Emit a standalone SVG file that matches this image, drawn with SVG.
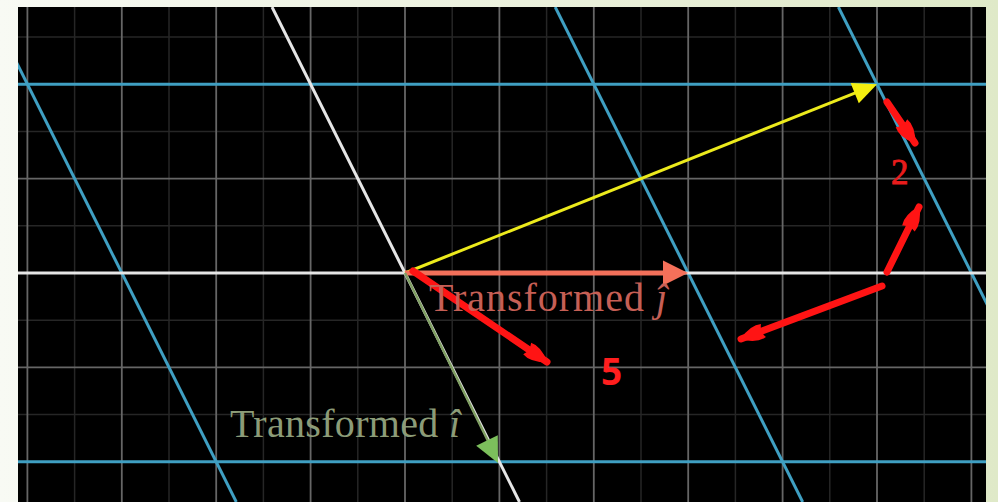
<svg xmlns="http://www.w3.org/2000/svg" width="998" height="502" viewBox="0 0 998 502">
  <defs>
    <linearGradient id="bg" x1="0" y1="0" x2="1" y2="0">
      <stop offset="0" stop-color="#f8faf4"/>
      <stop offset="1" stop-color="#dfe9c8"/>
    </linearGradient>
    <clipPath id="plane">
      <rect x="18" y="7" width="968" height="495"/>
    </clipPath>
    <marker id="redhead" viewBox="0 0 26 20" refX="24" refY="10" markerWidth="26" markerHeight="20" markerUnits="userSpaceOnUse" orient="auto">
      <path d="M0,3 Q10,0 25,10 Q10,20 0,17 Q4,10 0,3 Z" fill="#ff1414"/>
    </marker>
    <style>
      .major { stroke: #666; stroke-width: 1.8; }
      .minor { stroke: #262626; stroke-width: 1.5; }
      .tgrid { stroke: #3f9fc2; stroke-width: 3; fill: none; }
      .axis { stroke: #e6e6e6; stroke-width: 3; fill: none; }
      .red { stroke: #ff1414; stroke-width: 7; stroke-linecap: round; fill: none; marker-end: url(#redhead); }
      .lbl { font-family: "Liberation Serif", "DejaVu Serif", serif; font-size: 40px; }
    </style>
  </defs>

  <rect x="0" y="0" width="998" height="502" fill="url(#bg)"/>
  <rect x="18" y="7" width="968" height="495" fill="#000"/>

  <g id="grid" clip-path="url(#plane)">
    <g id="minor-lines">
      <line class="minor" x1="74.6" y1="7" x2="74.6" y2="502"/>
      <line class="minor" x1="169" y1="7" x2="169" y2="502"/>
      <line class="minor" x1="263.4" y1="7" x2="263.4" y2="502"/>
      <line class="minor" x1="357.8" y1="7" x2="357.8" y2="502"/>
      <line class="minor" x1="452.2" y1="7" x2="452.2" y2="502"/>
      <line class="minor" x1="546.6" y1="7" x2="546.6" y2="502"/>
      <line class="minor" x1="641" y1="7" x2="641" y2="502"/>
      <line class="minor" x1="735.4" y1="7" x2="735.4" y2="502"/>
      <line class="minor" x1="829.8" y1="7" x2="829.8" y2="502"/>
      <line class="minor" x1="924.2" y1="7" x2="924.2" y2="502"/>
      <line class="minor" x1="18" y1="37" x2="986" y2="37"/>
      <line class="minor" x1="18" y1="131.4" x2="986" y2="131.4"/>
      <line class="minor" x1="18" y1="225.8" x2="986" y2="225.8"/>
      <line class="minor" x1="18" y1="320.2" x2="986" y2="320.2"/>
      <line class="minor" x1="18" y1="414.6" x2="986" y2="414.6"/>
    </g>
    <g id="major-lines">
      <line class="major" x1="27.4" y1="7" x2="27.4" y2="502"/>
      <line class="major" x1="121.8" y1="7" x2="121.8" y2="502"/>
      <line class="major" x1="216.2" y1="7" x2="216.2" y2="502"/>
      <line class="major" x1="310.6" y1="7" x2="310.6" y2="502"/>
      <line class="major" x1="405" y1="7" x2="405" y2="502"/>
      <line class="major" x1="499.4" y1="7" x2="499.4" y2="502"/>
      <line class="major" x1="593.8" y1="7" x2="593.8" y2="502"/>
      <line class="major" x1="688.2" y1="7" x2="688.2" y2="502"/>
      <line class="major" x1="782.6" y1="7" x2="782.6" y2="502"/>
      <line class="major" x1="877" y1="7" x2="877" y2="502"/>
      <line class="major" x1="971.4" y1="7" x2="971.4" y2="502"/>
      <line class="major" x1="18" y1="84.2" x2="986" y2="84.2"/>
      <line class="major" x1="18" y1="178.6" x2="986" y2="178.6"/>
      <line class="major" x1="18" y1="367.4" x2="986" y2="367.4"/>
      <line class="major" x1="18" y1="461.8" x2="986" y2="461.8"/>
    </g>
    <g id="transformed-grid">
      <line class="tgrid" x1="18" y1="84.2" x2="986" y2="84.2"/>
      <line class="tgrid" x1="18" y1="461.8" x2="986" y2="461.8"/>
      <line class="tgrid" x1="-11.2" y1="7" x2="236.3" y2="502"/>
      <line class="tgrid" x1="555.2" y1="7" x2="802.7" y2="502"/>
      <line class="tgrid" x1="838.4" y1="7" x2="1085.9" y2="502"/>
    </g>
    <g id="axes">
      <line class="axis" x1="18" y1="273" x2="986" y2="273"/>
      <line class="axis" x1="272" y1="7" x2="519.5" y2="502"/>
    </g>
  </g>

  <g id="connectors">
    <g id="vector-yellow">
      <line x1="405" y1="273" x2="856" y2="92.6" stroke="#ecea1c" stroke-width="3"/>
      <polygon points="877,84.2 858.8,103.3 850.6,82.9" fill="#f4ef10"/>
    </g>
    <g id="vector-j">
      <line x1="405" y1="273" x2="666" y2="273" stroke="#f2705a" stroke-width="5"/>
      <polygon points="688,273 663,260.5 663,285.5" fill="#f5705a"/>
    </g>
    <g id="vector-i">
      <line x1="405" y1="273" x2="488" y2="441" stroke="#7f9e62" stroke-width="2.5"/>
      <polygon points="498,463 476.2,445.8 497.8,435.2" fill="#7cbf5c"/>
    </g>
    <g id="red-arrows">
      <line class="red" x1="413" y1="271" x2="547" y2="362"/>
      <line class="red" x1="882" y1="286" x2="741" y2="339"/>
      <line class="red" x1="887" y1="272" x2="919" y2="207"/>
      <line class="red" x1="887" y1="102" x2="915" y2="143"/>
    </g>
  </g>

  <g id="label-j">
    <text class="lbl" x="429" y="311" fill="#c65f55" textLength="238">Transformed <tspan font-style="italic">ĵ</tspan></text>
  </g>
  <g id="label-i">
    <text class="lbl" x="230" y="437" fill="#8c9c78" textLength="230">Transformed <tspan font-style="italic">î</tspan></text>
  </g>
  <g id="label-2">
    <text x="891" y="184" font-family="Liberation Serif, DejaVu Serif, serif" font-size="35" fill="#e81c1c" stroke="#e81c1c" stroke-width="0.8">2</text>
  </g>
  <g id="label-5">
    <text x="601" y="385" font-family="Open Sans, Liberation Sans, sans-serif" font-weight="bold" font-size="37" fill="#ff1e1e">5</text>
  </g>
</svg>
